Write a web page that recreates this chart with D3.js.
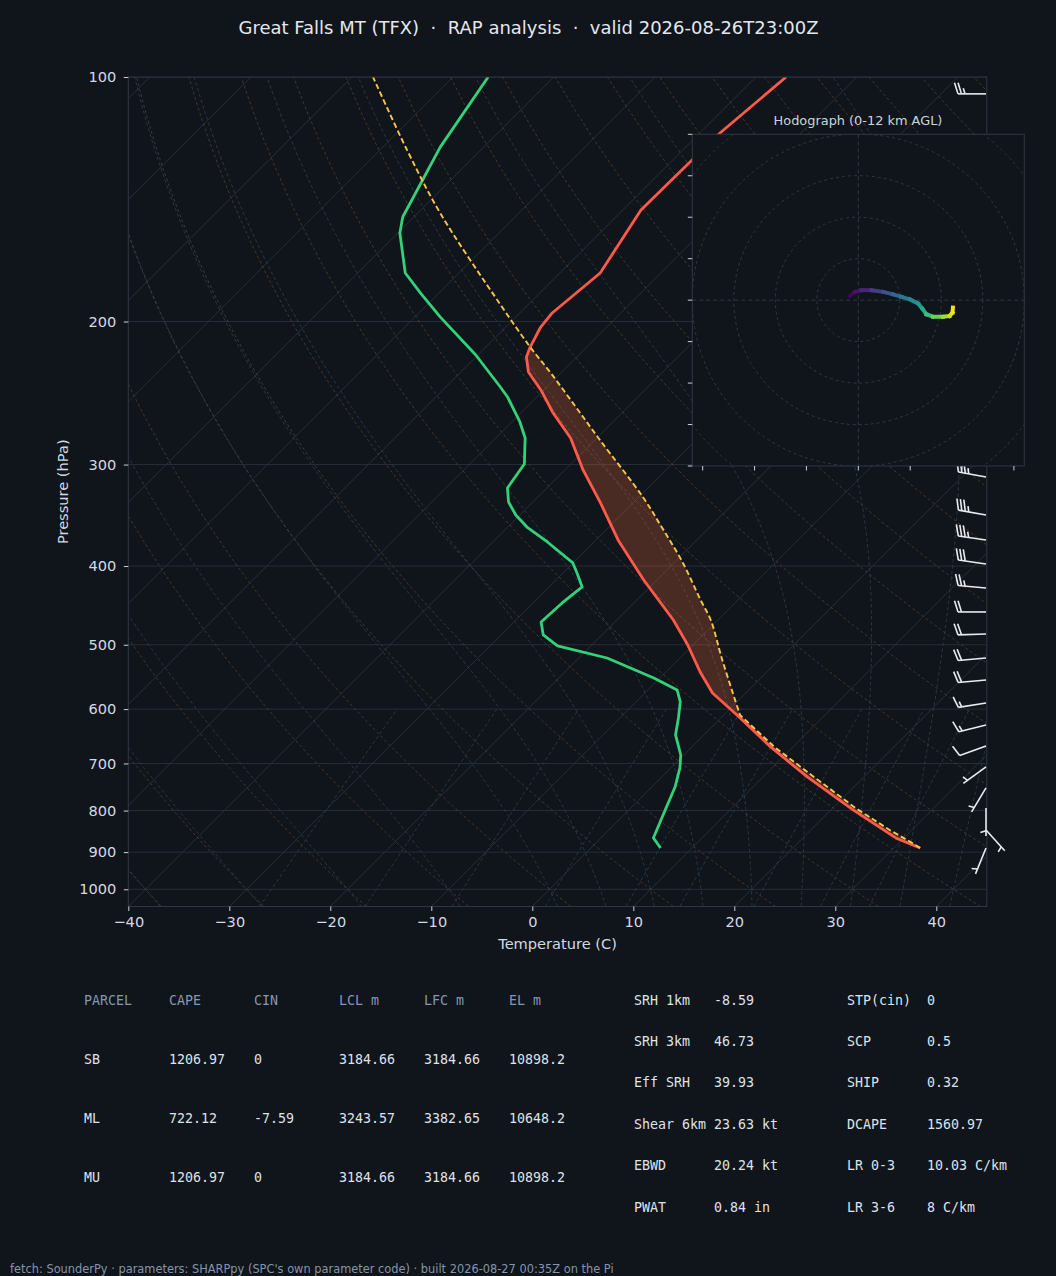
<!DOCTYPE html>
<html>
<head>
<meta charset="utf-8">
<script src="https://cdnjs.cloudflare.com/ajax/libs/d3/7.8.5/d3.min.js"></script>
<style>
  body { margin: 0; background: #10141b; }
  text { font-family: "DejaVu Sans", sans-serif; }
  text.mono { font-family: "DejaVu Sans Mono", monospace; }
</style>
</head>
<body>
<svg id="chart" width="1056" height="1276"></svg>
<script>
// ---- sounding ----
var tempP = [100, 117.2, 126.5, 145.8, 174.3, 195.2, 203.7, 215.0, 221.1, 230.8, 242.8, 259.2, 278.2, 304.6,
             334.5, 371.5, 416.1, 466.1, 500.3, 540.1, 573.2, 610.1, 668.0, 727.2, 798.6, 864.5, 889.4];
var tempC = [-57.0, -58.0, -58.1, -58.2, -56.0, -56.8, -56.5, -55.6, -55.0, -53.3, -50.3, -46.8, -42.6, -38.2,
             -33.2, -27.8, -21.3, -14.4, -10.5, -6.6, -3.3, 1.3, 7.8, 14.4, 22.2, 29.2, 32.6];

var dewP = [100, 122.0, 148.7, 155.6, 174.3, 184.5, 197.4, 219.9, 240.8, 247.7, 265.9, 278.2, 299.5, 320.6,
            333.6, 346.1, 358.1, 373.6, 396.5, 407.9, 424.4, 444.1, 468.7, 486.3, 501.7, 519.1, 534.0, 549.3,
            568.3, 588.0, 615.3, 645.7, 683.4, 709.0, 748.2, 798.6, 864.5, 889.4];
var dewC = [-86.5, -84.3, -81.1, -79.8, -75.3, -71.8, -67.5, -60.2, -54.6, -52.9, -49.2, -47.1, -44.6, -43.9,
            -42.4, -40.4, -38.1, -34.6, -30.0, -28.6, -26.7, -27.1, -27.3, -25.8, -23.3, -17.2, -13.9, -10.6,
            -7.1, -5.6, -4.2, -2.8, -0.3, 0.9, 2.3, 3.6, 5.2, 6.9];

var parcelP = [889.4, 877.7, 845.2, 794.7, 723.2, 667.4, 610.1, 522.0, 466.1, 440.3, 396.5, 361.1, 328.9,
               279.8, 254.6, 231.4, 215.0, 190.8, 147.0, 123.0, 100];
var parcelC = [32.6, 31.4, 27.8, 22.3, 14.6, 8.1, 1.6, -5.6, -10.7, -13.7, -19.1, -24.3, -29.6,
               -39.5, -45.2, -51.0, -55.6, -62.7, -77.8, -87.3, -97.9];
var lclP = 610.1, elP = 215.0;

// wind barbs: pressure, direction (deg from), speed (kt)
var barbP   = [104.9, 123.0, 140.9, 161.5, 185.0, 212.0, 242.8, 278.2, 310.7, 346.1, 371.5, 397.6, 425.6,
               455.6, 484.9, 519.1, 552.5, 589.7, 627.6, 666.1, 706.9, 750.3, 794.0, 845.2, 889.4];
var barbDir = [270, 272, 275, 278, 280, 282, 282, 281, 280, 280, 278, 278, 275,
               270, 268, 265, 265, 261, 256, 250, 234, 211, 180, 138, 202];
var barbSpd = [25, 30, 35, 40, 45, 45, 45, 40, 35, 35, 35, 30, 25,
               20, 20, 20, 20, 15, 15, 10, 5, 5, 5, 5, 5];

// hodograph trace (kt) and height (km AGL)
var hodoU = [-2.0, -0.8, 0.8, 3.2, 6.0, 8.4, 10.4, 12.4, 14.4, 15.4, 16.4, 18.0, 20.4, 22.0, 22.7, 22.8];
var hodoV = [1.0, 2.0, 2.4, 2.4, 2.0, 1.4, 0.8, 0.2, -0.8, -2.0, -3.4, -4.0, -4.0, -3.8, -3.0, -1.8];
var hodoZ = [0, 0.4, 0.9, 1.7, 2.6, 3.5, 4.4, 5.3, 6.2, 7.0, 7.8, 8.8, 9.9, 10.8, 11.4, 12];
var hodoRings = [10, 20, 30, 40, 50];
var hodoXTicks = [-37.5, -25, -12.5, 0, 12.5, 25, 37.5];
var hodoYTicks = [-40, -30, -20, -10, 0, 10, 20, 30, 40];

var pTicks = [100, 200, 300, 400, 500, 600, 700, 800, 900, 1000];
var tTicks = [-40, -30, -20, -10, 0, 10, 20, 30, 40];

// parameter tables
var parcelHeaders = ["PARCEL", "CAPE", "CIN", "LCL m", "LFC m", "EL m"];
var parcelRows = [
  ["SB", "1206.97", "0", "3184.66", "3184.66", "10898.2"],
  ["ML", "722.12", "-7.59", "3243.57", "3382.65", "10648.2"],
  ["MU", "1206.97", "0", "3184.66", "3184.66", "10898.2"]
];
var kinLabels = ["SRH 1km", "SRH 3km", "Eff SRH", "Shear 6km", "EBWD", "PWAT"];
var kinValues = ["-8.59", "46.73", "39.93", "23.63 kt", "20.24 kt", "0.84 in"];
var thermoLabels = ["STP(cin)", "SCP", "SHIP", "DCAPE", "LR 0-3", "LR 3-6"];
var thermoValues = ["0", "0.5", "0.32", "1560.97", "10.03 C/km", "8 C/km"];

var titleText = "Great Falls MT (TFX)  \u00b7  RAP analysis  \u00b7  valid 2026-08-26T23:00Z";
var footerText = "fetch: SounderPy \u00b7 parameters: SHARPpy (SPC's own parameter code) \u00b7 built 2026-08-27 00:35Z on the Pi";

// ---- layout ----
var width = 1056, height = 1276;
var plot = {left: 128.3, right: 986.8, top: 77, bottom: 906.5};
var bg = "#10141b";
var axisFont = "14.6px";

var x = d3.scaleLinear().domain([-40, 45]).range([plot.left, plot.right]);
var y = d3.scaleLog().domain([1050, 100]).range([plot.bottom, plot.top]);
function skewX(t, p) { return x(t) + (plot.bottom - y(p)); }

var skewLine = d3.line()
    .x(function(d) { return skewX(d[1], d[0]); })
    .y(function(d) { return y(d[0]); });
var skewCurve = d3.line()
    .x(function(d) { return skewX(d[1], d[0]); })
    .y(function(d) { return y(d[0]); })
    .curve(d3.curveCatmullRom.alpha(0.5));

var svg = d3.select("#chart");
svg.append("rect").attr("width", width).attr("height", height).attr("fill", bg);

var defs = svg.append("defs");
defs.append("clipPath").attr("id", "plotclip").append("rect")
    .attr("x", plot.left).attr("y", plot.top)
    .attr("width", plot.right - plot.left).attr("height", plot.bottom - plot.top);

var g = svg.append("g").attr("clip-path", "url(#plotclip)");

// ---- thermodynamic reference lines ----
var levels = d3.range(1050, 99, -10);
var kappa = 0.2857;

function satVap(tc) { return 6.112 * Math.exp(17.67 * tc / (tc + 243.5)); }
function moistDeriv(p, tk) {
  var es = satVap(tk - 273.15),
      rs = 0.622 * es / (p - es),
      Lv = 2.50084e6, Rd = 287.04749, Cp = 1004.666;
  return (Rd * tk + Lv * rs) / (Cp + Lv * Lv * rs * 0.622 / (Rd * tk * tk)) / p;
}
function rk4(p, t, step) {
  var k1 = moistDeriv(p, t),
      k2 = moistDeriv(p + step / 2, t + k1 * step / 2),
      k3 = moistDeriv(p + step / 2, t + k2 * step / 2),
      k4 = moistDeriv(p + step, t + k3 * step);
  return t + step * (k1 + 2 * k2 + 2 * k3 + k4) / 6;
}
function moistAdiabat(t0) {
  var up = [[1000, t0 + 273.15]], down = [], p = 1000, t = t0 + 273.15;
  while (p > 100) { t = rk4(p, t, -5); p -= 5; up.push([p, t]); }
  p = 1000; t = t0 + 273.15;
  while (p < 1050) { t = rk4(p, t, 5); p += 5; down.unshift([p, t]); }
  return down.concat(up).map(function(d) { return [d[0], d[1] - 273.15]; });
}

// isobars
g.selectAll(".isobar").data(pTicks).enter().append("line")
    .attr("x1", plot.left).attr("x2", plot.right)
    .attr("y1", function(d) { return y(d); }).attr("y2", function(d) { return y(d); })
    .attr("stroke", "#252e39").attr("stroke-width", 1);

// isotherms
g.selectAll(".isotherm").data(d3.range(-130, 41, 10)).enter().append("path")
    .attr("d", function(t) { return skewLine([[1050, t], [100, t]]); })
    .attr("fill", "none").attr("stroke", "#29323d").attr("stroke-width", 0.9);

// dry adiabats
g.selectAll(".dry").data(d3.range(-40, 250, 10)).enter().append("path")
    .attr("d", function(t0) {
      return skewLine(levels.map(function(p) {
        return [p, (t0 + 273.15) * Math.pow(p / 1000, kappa) - 273.15];
      }));
    })
    .attr("fill", "none").attr("stroke", "#5a4631").attr("stroke-width", 0.9)
    .attr("stroke-dasharray", "3,2.5").attr("stroke-opacity", 0.8);

// moist adiabats
var moistT0 = d3.range(-40, 0, 10).concat(d3.range(0, 46, 5));
g.selectAll(".moist").data(moistT0).enter().append("path")
    .attr("d", function(t0) { return skewLine(moistAdiabat(t0)); })
    .attr("fill", "none").attr("stroke", "#2b3c4a").attr("stroke-width", 0.9)
    .attr("stroke-dasharray", "3.5,2.5");

// mixing ratio lines
var mixRatios = [0.0004, 0.001, 0.002, 0.004, 0.007, 0.01, 0.016, 0.024, 0.032];
var mixLevels = d3.range(1050, 599, -10);
g.selectAll(".mix").data(mixRatios).enter().append("path")
    .attr("d", function(w) {
      return skewLine(mixLevels.map(function(p) {
        var e = w * p / (0.622 + w), l = Math.log(e / 6.112);
        return [p, 243.5 * l / (17.67 - l)];
      }));
    })
    .attr("fill", "none").attr("stroke", "#2b3c4a").attr("stroke-width", 0.9)
    .attr("stroke-dasharray", "3.5,2.5");

// ---- parcel path: straight dry leg to the LCL, smooth moist leg above ----
var parcelPts = parcelP.map(function(p, i) { return [p, parcelC[i]]; });
var tempPts = tempP.map(function(p, i) { return [p, tempC[i]]; });
var dewPts = dewP.map(function(p, i) { return [p, dewC[i]]; });

var dryLeg = parcelPts.filter(function(d) { return d[0] >= lclP; });
var moistLeg = parcelPts.filter(function(d) { return d[0] <= lclP; });
function parcelPath(moist) {
  return skewLine(dryLeg) + "L" + skewCurve(moist).slice(1);
}

// CAPE shading: parcel up to the EL, temperature back down
var moistToEL = moistLeg.filter(function(d) { return d[0] >= elP; });
var tempBelowEL = tempPts.filter(function(d) { return d[0] >= elP; });
g.append("path")
    .attr("d", parcelPath(moistToEL) + "L" + skewLine(tempBelowEL).slice(1) + "Z")
    .attr("fill", "#d1643c").attr("fill-opacity", 0.3);

// ---- profiles ----
g.append("path").attr("d", skewLine(tempPts))
    .attr("fill", "none").attr("stroke", "#ff5a4a").attr("stroke-width", 2.8)
    .attr("stroke-linejoin", "round");
g.append("path").attr("d", skewLine(dewPts))
    .attr("fill", "none").attr("stroke", "#33d17a").attr("stroke-width", 2.8)
    .attr("stroke-linejoin", "round");
g.append("path").attr("d", parcelPath(moistLeg))
    .attr("fill", "none").attr("stroke", "#f7c646").attr("stroke-width", 1.9)
    .attr("stroke-dasharray", "5.5,3");

// ---- frame and axes ----
svg.append("rect")
    .attr("x", plot.left).attr("y", plot.top)
    .attr("width", plot.right - plot.left).attr("height", plot.bottom - plot.top)
    .attr("fill", "none").attr("stroke", "#2d3744").attr("stroke-width", 1);

var yAxis = svg.append("g").attr("transform", "translate(" + plot.left + ",0)")
    .call(d3.axisLeft(y).tickValues(pTicks).tickFormat(d3.format("d")).tickSize(4.5).tickPadding(7.5));
var xAxis = svg.append("g").attr("transform", "translate(0," + plot.bottom + ")")
    .call(d3.axisBottom(x).tickValues(tTicks).tickFormat(d3.format("d")).tickSize(4.5).tickPadding(5.9));
[yAxis, xAxis].forEach(function(a) {
  a.select(".domain").remove();
  a.selectAll(".tick line").attr("stroke", "#c9d1d9").attr("stroke-width", 1);
  a.selectAll(".tick text").attr("fill", "#d3dae2")
      .style("font-family", "DejaVu Sans").style("font-size", axisFont);
});

svg.append("text")
    .attr("transform", "translate(68.4," + ((plot.top + plot.bottom) / 2) + ") rotate(-90)")
    .attr("text-anchor", "middle").attr("fill", "#d3dae2").style("font-size", axisFont)
    .text("Pressure (hPa)");
svg.append("text")
    .attr("x", (plot.left + plot.right) / 2).attr("y", 948.5)
    .attr("text-anchor", "middle").attr("fill", "#d3dae2").style("font-size", axisFont)
    .text("Temperature (C)");

svg.append("text")
    .attr("x", 528.5).attr("y", 33.5)
    .attr("text-anchor", "middle").attr("fill", "#e3e8ee")
    .style("font-size", "18px").style("white-space", "pre")
    .text(titleText);

// ---- wind barbs ----
function barbSegments(px, py, dir, spd) {
  var L = 28, fh = L * 0.4, fw = L * 0.25, sp = L * 0.125;
  var rad = dir * Math.PI / 180,
      u = -spd * Math.sin(rad), v = -spd * Math.cos(rad),
      phi = Math.atan2(v, u) + Math.PI / 2,
      c = Math.cos(phi), s = Math.sin(phi);
  function pt(lx, ly) { return [px + lx * c - ly * s, py - (lx * s + ly * c)]; }
  var r = Math.round(spd / 5) * 5,
      nflag = Math.floor(r / 50),
      nbarb = Math.floor((r % 50) / 10),
      half = (r % 10) >= 5;
  var segs = [[pt(0, 0), pt(0, L)]], off = L, i;
  for (i = 0; i < nflag; i++) {
    if (off !== L) off += sp / 2;
    segs.push([pt(0, off), pt(fh, off - fw / 2), pt(0, off - fw)]);
    off -= fw + sp;
  }
  for (i = 0; i < nbarb; i++) {
    segs.push([pt(0, off), pt(fh, off + fw / 2)]);
    off -= sp;
  }
  if (half) {
    if (off === L) off -= 1.5 * sp;
    segs.push([pt(0, off), pt(fh / 2, off + fw / 4)]);
  }
  return segs;
}
var barbG = svg.append("g");
barbP.forEach(function(p, i) {
  barbSegments(plot.right - 0.8, y(p), barbDir[i], barbSpd[i]).forEach(function(seg) {
    barbG.append("path")
        .attr("d", d3.line()(seg))
        .attr("fill", "none").attr("stroke", "#e8ecf0").attr("stroke-width", 1.6);
  });
});

// ---- hodograph inset ----
var hb = {left: 692.3, right: 1024.3, top: 134.3, bottom: 466};
var hx = d3.scaleLinear().domain([-40, 40]).range([hb.left, hb.right]);
var hy = d3.scaleLinear().domain([-40, 40]).range([hb.bottom, hb.top]);
var hodo = svg.append("g");
defs.append("clipPath").attr("id", "hodoclip").append("rect")
    .attr("x", hb.left).attr("y", hb.top)
    .attr("width", hb.right - hb.left).attr("height", hb.bottom - hb.top);

hodo.append("rect")
    .attr("x", hb.left).attr("y", hb.top)
    .attr("width", hb.right - hb.left).attr("height", hb.bottom - hb.top)
    .attr("fill", bg);

var hin = hodo.append("g").attr("clip-path", "url(#hodoclip)");
hin.selectAll("circle").data(hodoRings).enter().append("circle")
    .attr("cx", hx(0)).attr("cy", hy(0))
    .attr("r", function(d) { return hx(d) - hx(0); })
    .attr("fill", "none").attr("stroke", "#2e3947").attr("stroke-width", 1)
    .attr("stroke-dasharray", "3,3");
hin.append("line").attr("x1", hb.left).attr("x2", hb.right).attr("y1", hy(0)).attr("y2", hy(0))
    .attr("stroke", "#2e3947").attr("stroke-dasharray", "4,3");
hin.append("line").attr("y1", hb.top).attr("y2", hb.bottom).attr("x1", hx(0)).attr("x2", hx(0))
    .attr("stroke", "#2e3947").attr("stroke-dasharray", "4,3");

var hodoColor = d3.scaleSequential(d3.interpolateViridis).domain([0, 12]);
for (var k = 0; k < hodoU.length - 1; k++) {
  hin.append("line")
      .attr("x1", hx(hodoU[k])).attr("y1", hy(hodoV[k]))
      .attr("x2", hx(hodoU[k + 1])).attr("y2", hy(hodoV[k + 1]))
      .attr("stroke", hodoColor((hodoZ[k] + hodoZ[k + 1]) / 2))
      .attr("stroke-width", 4).attr("stroke-linecap", "square");
}

hodo.append("rect")
    .attr("x", hb.left).attr("y", hb.top)
    .attr("width", hb.right - hb.left).attr("height", hb.bottom - hb.top)
    .attr("fill", "none").attr("stroke", "#2d3744").attr("stroke-width", 1);

hodo.selectAll(".hyt").data(hodoYTicks).enter().append("line")
    .attr("x1", hb.left - 4.5).attr("x2", hb.left)
    .attr("y1", function(d) { return hy(d); }).attr("y2", function(d) { return hy(d); })
    .attr("stroke", "#c9d1d9");
hodo.selectAll(".hxt").data(hodoXTicks).enter().append("line")
    .attr("y1", hb.bottom).attr("y2", hb.bottom + 4.5)
    .attr("x1", function(d) { return hx(d); }).attr("x2", function(d) { return hx(d); })
    .attr("stroke", "#c9d1d9");

hodo.append("text")
    .attr("x", (hb.left + hb.right) / 2 - 0.3).attr("y", 124.5)
    .attr("text-anchor", "middle").attr("fill", "#cdd4dc").style("font-size", "12.9px")
    .text("Hodograph (0-12 km AGL)");

// ---- parameter tables ----
var tbl = svg.append("g");
function cell(xp, yp, txt, col) {
  tbl.append("text").attr("class", "mono")
      .attr("x", xp).attr("y", yp + 4.6)
      .attr("fill", col).style("font-size", "13.3px")
      .text(txt);
}
var pColX = [84, 169, 254, 339, 424, 509];
var pRowY = [1000, 1059, 1118, 1177];
parcelHeaders.forEach(function(h, i) { cell(pColX[i], pRowY[0], h, "#8797ad"); });
parcelRows.forEach(function(row, r) {
  row.forEach(function(v, i) { cell(pColX[i], pRowY[r + 1], v, "#dde3ea"); });
});

var kRowY = [1000, 1041.4, 1082.8, 1124.2, 1165.6, 1207];
kinLabels.forEach(function(l, i) {
  cell(634, kRowY[i], l, "#dde3ea");
  cell(714, kRowY[i], kinValues[i], "#dde3ea");
  cell(847, kRowY[i], thermoLabels[i], "#dde3ea");
  cell(927, kRowY[i], thermoValues[i], "#dde3ea");
});

svg.append("text")
    .attr("x", 10).attr("y", 1273)
    .attr("fill", "#8595aa").style("font-size", "11.4px")
    .text(footerText);
</script>
</body>
</html>
